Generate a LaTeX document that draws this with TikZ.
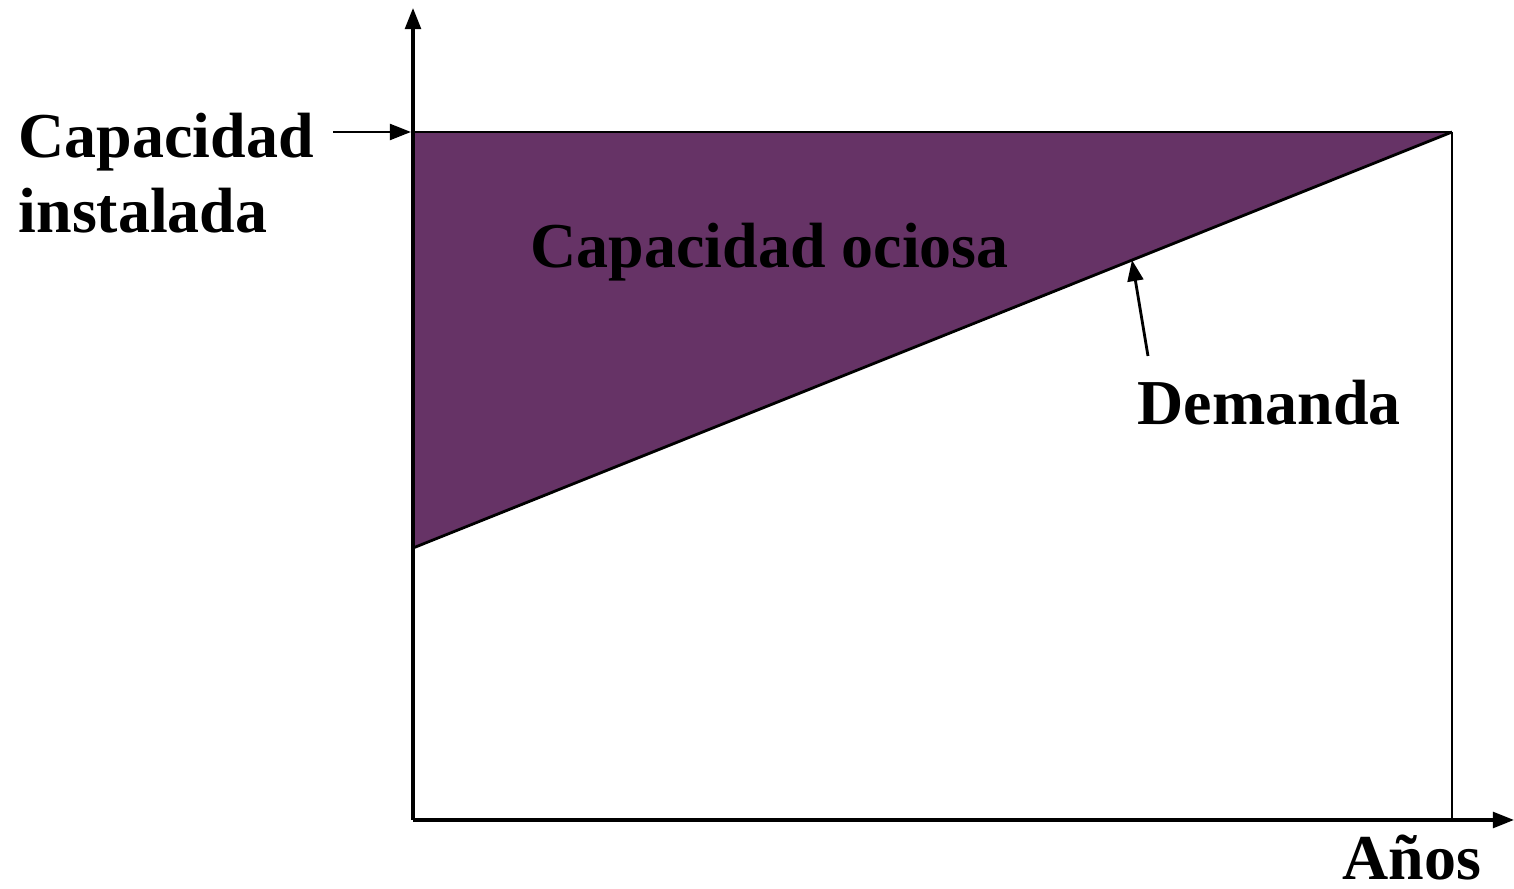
\documentclass[tikz,border=0pt]{standalone}
\usepackage{fontspec}
\setmainfont{Liberation Serif}
\usetikzlibrary{arrows.meta,positioning,calc}
\definecolor{idlepurple}{RGB}{102,51,102}

\begin{document}
\begin{tikzpicture}[
    axisline/.style={line width=0.9pt, -{Triangle[length=6pt,width=4.5pt]}},
    pointer/.style={line width=0.8pt, -{Triangle[length=6pt,width=4.5pt]}},
    label/.style={font=\fontsize{18.2}{21.6}\selectfont\bfseries, inner sep=0pt}
]
    \useasboundingbox (0,0) rectangle (15.14,8.89);

    % Corners of the chart
    \coordinate (origin) at (4.13,0.69);
    \coordinate (ytop) at (4.13,8.81);
    \coordinate (xend) at (15.14,0.69);
    \coordinate (capL) at (4.13,7.57);
    \coordinate (capR) at (14.52,7.57);
    \coordinate (demL) at (4.13,3.41);
    \coordinate (capbase) at (14.52,0.69);

    % Idle capacity area
    \fill[idlepurple] (capL) -- (capR) -- (demL) -- cycle;
    \draw[line width=0.8pt] (capL) -- (capR);
    \draw[line width=0.8pt] (demL) -- (capR);
    \draw[line width=0.8pt] (capR) -- (capbase);

    % Axes
    \draw[axisline] (origin) -- (ytop);
    \draw[axisline] (origin) -- (xend);

    % Labels
    \node[label, anchor=base west, align=left] (capinst) at (0.18,6.56) {Capacidad\\instalada};
    \node[label, anchor=base west] (ociosa) at (5.30,6.21) {Capacidad ociosa};
    \node[label, anchor=base west] (demanda) at (11.37,4.64) {Demanda};
    \node[label, anchor=base west] (anos) at (13.42,0.09) {Años};

    % Pointers
    \coordinate (capstart) at (3.33,7.57);
    \coordinate (capend) at (4.11,7.57);
    \draw[pointer] (capstart) -- (capend);
    \coordinate (demstart) at (11.48,5.33);
    \coordinate (demend) at (11.32,6.29);
    \draw[pointer] (demstart) -- (demend);
\end{tikzpicture}
\end{document}
